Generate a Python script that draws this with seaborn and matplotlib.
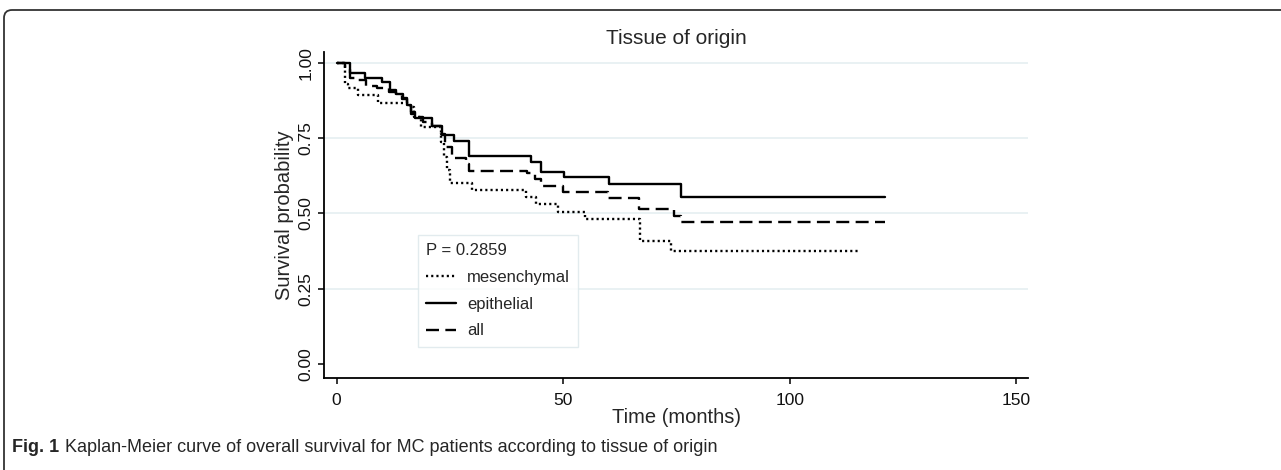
import numpy as np
import pandas as pd
import seaborn as sns
import matplotlib.pyplot as plt
from matplotlib.patches import FancyBboxPatch

# Kaplan-Meier step values (time in months, survival)
mes_t = [0, 1.8, 2.5, 4.8, 9.2, 16.2, 17.0, 18.7, 23.1, 23.6, 24.3, 25.0, 29.8,
         41.8, 44.1, 48.9, 54.9, 66.9, 73.9, 115.4]
mes_s = [1.0, 0.932, 0.916, 0.894, 0.869, 0.855, 0.822, 0.788, 0.739, 0.689, 0.645,
         0.600, 0.578, 0.556, 0.531, 0.504, 0.481, 0.410, 0.376, 0.376]

epi_t = [0, 2.9, 6.2, 9.9, 11.8, 13.1, 14.6, 15.6, 16.5, 17.3, 21.0, 23.2, 26.0,
         29.2, 43.0, 45.0, 50.1, 60.1, 76.1, 121.1]
epi_s = [1.0, 0.968, 0.952, 0.937, 0.910, 0.896, 0.883, 0.860, 0.830, 0.816, 0.790,
         0.761, 0.742, 0.691, 0.672, 0.639, 0.620, 0.598, 0.556, 0.556]

all_t = [0, 1.8, 2.9, 4.5, 6.5, 9.0, 11.5, 13.0, 14.5, 15.5, 16.5, 17.3, 19.0, 21.0,
         23.0, 23.9, 25.5, 28.5, 29.2, 41.9, 43.7, 45.0, 50.0, 59.9, 66.8, 74.4, 76.1, 121.0]
all_s = [1.0, 0.984, 0.951, 0.944, 0.925, 0.916, 0.905, 0.894, 0.880, 0.862, 0.838,
         0.820, 0.805, 0.790, 0.765, 0.720, 0.683, 0.663, 0.642, 0.633, 0.614, 0.591,
         0.572, 0.551, 0.515, 0.492, 0.473, 0.473]

groups = ["mesenchymal", "epithelial", "all"]
x_ticks = [0, 50, 100, 150]
y_ticks = [0, 0.25, 0.5, 0.75, 1.0]
p_text = "P = 0.2859"

df = pd.concat([
    pd.DataFrame({"time": mes_t, "surv": mes_s, "group": "mesenchymal"}),
    pd.DataFrame({"time": epi_t, "surv": epi_s, "group": "epithelial"}),
    pd.DataFrame({"time": all_t, "surv": all_s, "group": "all"}),
])

sns.set_style("white")
plt.rcParams['font.family'] = ['Liberation Sans', 'DejaVu Sans']

fig = plt.figure(figsize=(12.81, 4.70), dpi=100)
ax = fig.add_axes([324 / 1281, 92 / 470, 704 / 1281, 326 / 470])

dash_map = {"mesenchymal": (0.9, 1.3), "epithelial": "", "all": (5.5, 2.7)}
sns.lineplot(data=df, x="time", y="surv", style="group", style_order=groups,
             dashes=dash_map, color="black", lw=1.7, drawstyle="steps-post",
             estimator=None, sort=False, legend=False, ax=ax)

ax.set_xlim(-2.8, 152.6)
ax.set_ylim(-0.047, 1.037)
ax.set_xticks(x_ticks)
ax.set_yticks(y_ticks)
ax.set_yticklabels([f"{v:.2f}" for v in y_ticks], rotation=90, va="center")
ax.tick_params(axis="both", direction="out", length=4.5, width=1.1, color="black",
               labelsize=12.5, labelcolor="#111111", left=True, bottom=True)
ax.tick_params(axis="y", pad=3)
ax.tick_params(axis="x", pad=6)

ax.grid(axis="y", color="#e3eef0", lw=1.1)
ax.get_ygridlines()[0].set_visible(False)
ax.set_axisbelow(True)

sns.despine(ax=ax)
for sp in ["left", "bottom"]:
    ax.spines[sp].set_color("black")
    ax.spines[sp].set_linewidth(1.3)

ax.set_xlabel("Time (months)", fontsize=14.5, labelpad=0)
ax.set_ylabel("Survival probability", fontsize=14.5, labelpad=3)
ax.set_title("Tissue of origin", fontsize=15, pad=6)

leg = ax.legend(ax.get_lines()[:3], groups, title=p_text, loc="upper left",
                bbox_to_anchor=(418 / 1281, 1 - 235 / 470), bbox_transform=fig.transFigure,
                fontsize=12, title_fontsize=12, alignment="left", fancybox=False,
                frameon=True, edgecolor="#dbe7ea", borderpad=0.5, labelspacing=0.7,
                handlelength=1.8, handletextpad=0.65, borderaxespad=0)
leg.get_frame().set_linewidth(1.0)

# caption under the chart
cap = fig.text(12 / 1281, 1 - 448 / 470, "Fig. 1", fontsize=13, fontweight="bold",
               va="center")
ax.annotate("Kaplan-Meier curve of overall survival for MC patients according to tissue of origin",
            xy=(1, 0), xycoords=cap, xytext=(4, 0), textcoords="offset points",
            va="bottom", ha="left", fontsize=13, annotation_clip=False)

# rounded panel border
border = FancyBboxPatch((0.04, -0.3), 14.0, 4.70 - 0.10 + 0.3,
                        boxstyle="round,pad=0,rounding_size=0.08",
                        transform=fig.dpi_scale_trans, fill=False,
                        edgecolor="#333333", lw=1.3)
fig.patches.append(border)

fig.savefig("out.png", dpi=100)
